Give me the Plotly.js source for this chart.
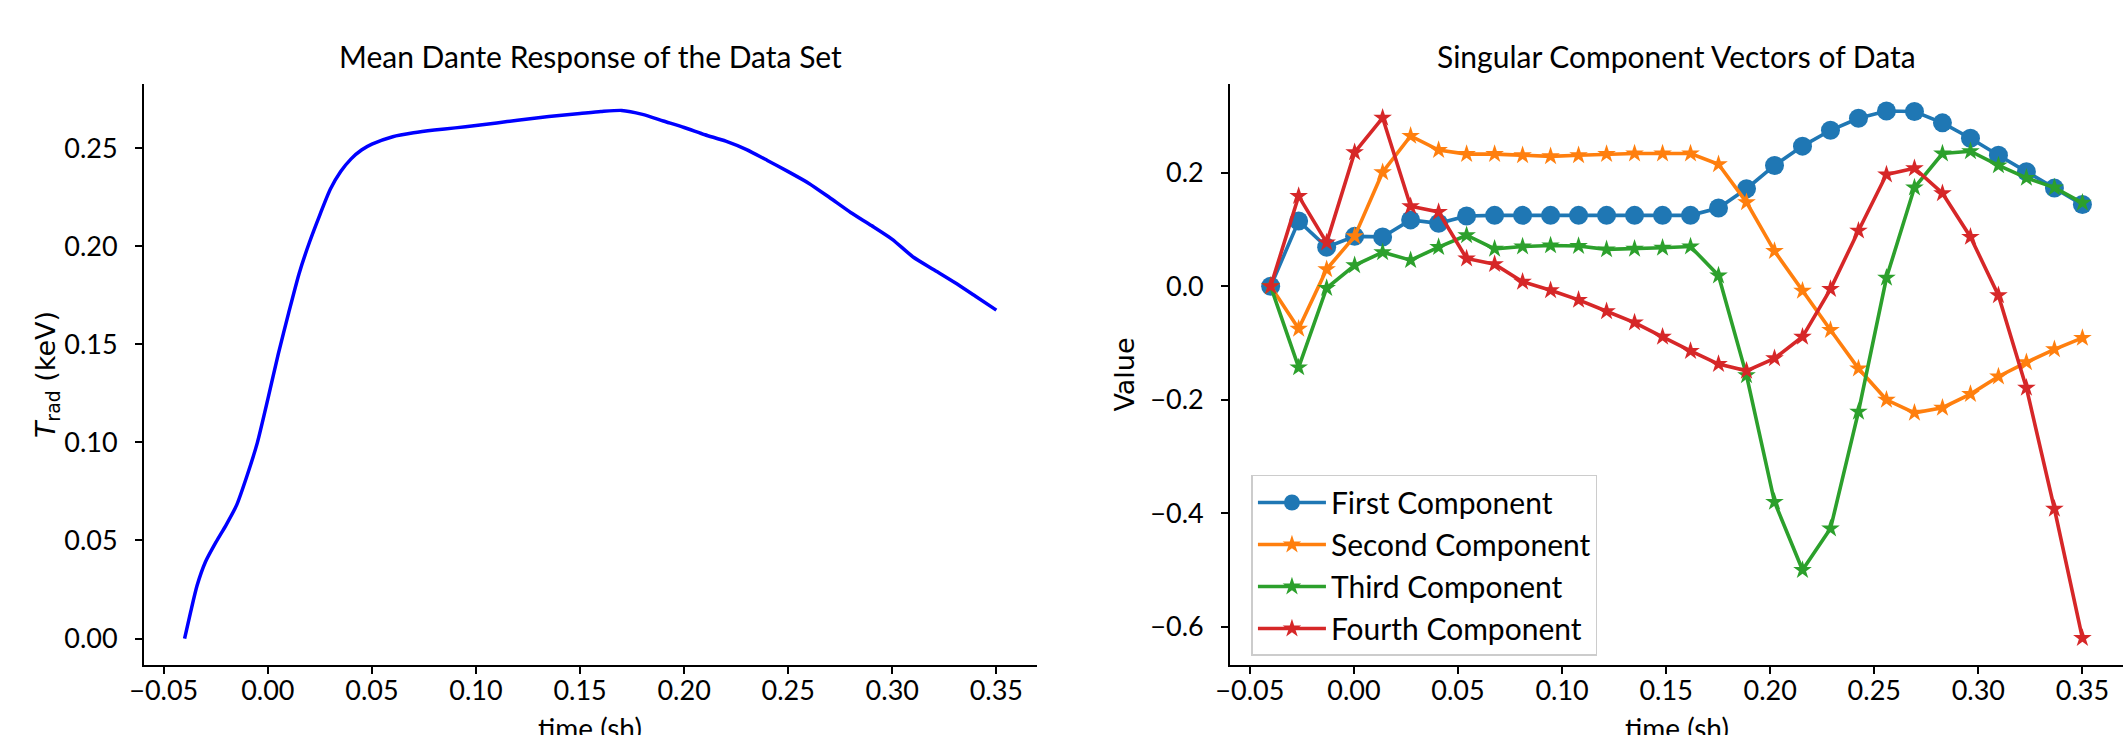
<!DOCTYPE html>
<html><head><meta charset="utf-8">
<script src="https://cdn.plot.ly/plotly-3.0.1.min.js"></script>
<style>html,body{margin:0;padding:0;background:#fff}#chart{width:2125px;height:735px}</style>
</head><body><div id="chart"></div>
<script>
// Left panel: mean Dante response
const meanTime = [-0.040, -0.037, -0.034, -0.030, -0.025, -0.020, -0.015, -0.010, -0.005, 0.000,
  0.005, 0.010, 0.015, 0.020, 0.025, 0.030, 0.035, 0.040, 0.045, 0.050,
  0.060, 0.070, 0.080, 0.090, 0.100, 0.110, 0.120, 0.130, 0.140, 0.150,
  0.160, 0.170, 0.180, 0.190, 0.200, 0.210, 0.220, 0.230, 0.240, 0.250,
  0.260, 0.270, 0.280, 0.290, 0.300, 0.310, 0.320, 0.330, 0.340, 0.350];
const meanTrad = [0.000, 0.014, 0.027, 0.039, 0.049, 0.058, 0.068, 0.083, 0.100, 0.122,
  0.145, 0.166, 0.186, 0.202, 0.216, 0.229, 0.238, 0.2445, 0.249, 0.252,
  0.2558, 0.2578, 0.2592, 0.2603, 0.2615, 0.2628, 0.2642, 0.2655, 0.2666, 0.2676,
  0.2686, 0.2692, 0.2672, 0.2638, 0.2605, 0.2568, 0.2535, 0.2492, 0.2437, 0.2380,
  0.2320, 0.2247, 0.2172, 0.2105, 0.2035, 0.1945, 0.1880, 0.1815, 0.1745, 0.1674];

// Right panel: singular component vectors
const componentTime = [-0.04000, -0.02655, -0.01310, 0.00034, 0.01379, 0.02724, 0.04069, 0.05414, 0.06759, 0.08103,
  0.09448, 0.10793, 0.12138, 0.13483, 0.14828, 0.16172, 0.17517, 0.18862, 0.20207, 0.21552,
  0.22897, 0.24241, 0.25586, 0.26931, 0.28276, 0.29621, 0.30966, 0.32310, 0.33655, 0.35000];
const firstComponent = [0.000, 0.115, 0.069, 0.088, 0.087, 0.117, 0.111, 0.124, 0.125, 0.125,
  0.125, 0.125, 0.125, 0.125, 0.125, 0.125, 0.138, 0.172, 0.213, 0.247,
  0.275, 0.296, 0.309, 0.308, 0.288, 0.261, 0.231, 0.202, 0.173, 0.144];
const secondComponent = [0.000, -0.075, 0.030, 0.088, 0.201, 0.265, 0.240, 0.233, 0.233, 0.231,
  0.229, 0.231, 0.233, 0.234, 0.234, 0.234, 0.215, 0.148, 0.062, -0.008,
  -0.077, -0.145, -0.200, -0.223, -0.214, -0.190, -0.159, -0.134, -0.111, -0.091];
const thirdComponent = [0.000, -0.143, -0.003, 0.037, 0.060, 0.046, 0.069, 0.090, 0.066, 0.070,
  0.072, 0.071, 0.065, 0.066, 0.068, 0.070, 0.019, -0.157, -0.380, -0.500,
  -0.427, -0.221, 0.015, 0.174, 0.234, 0.238, 0.213, 0.191, 0.174, 0.147];
const fourthComponent = [0.000, 0.159, 0.077, 0.236, 0.297, 0.141, 0.131, 0.049, 0.039, 0.008,
  -0.007, -0.024, -0.044, -0.064, -0.089, -0.114, -0.137, -0.149, -0.127, -0.089,
  -0.005, 0.098, 0.197, 0.208, 0.164, 0.087, -0.016, -0.179, -0.392, -0.620];

const seriesNames = ['First Component', 'Second Component', 'Third Component', 'Fourth Component'];
const seriesColors = ['#1f77b4', '#ff7f0e', '#2ca02c', '#d62728'];
const seriesValues = [firstComponent, secondComponent, thirdComponent, fourthComponent];
const seriesSymbols = ['circle', 'star', 'star', 'star'];

const TXT = 'Lato';
const DJ = 'DejaVu Sans';

const traces = [{
  x: meanTime, y: meanTrad, type: 'scatter', mode: 'lines',
  line: {color: '#0000ff', width: 3.5, shape: 'spline', smoothing: 0.6},
  xaxis: 'x', yaxis: 'y', showlegend: false, hoverinfo: 'x+y'
}];
seriesValues.forEach((vals, i) => {
  traces.push({
    x: componentTime, y: vals, type: 'scatter', mode: 'lines+markers',
    name: seriesNames[i],
    line: {color: seriesColors[i], width: 3.6},
    marker: {color: seriesColors[i], symbol: seriesSymbols[i], size: i === 0 ? 19 : 14},
    xaxis: 'x2', yaxis: 'y2'
  });
});

const tickFont = {family: TXT, size: 27, color: '#000'};
const baseX = {
  range: [-0.0595, 0.3695], tick0: -0.05, dtick: 0.05, tickformat: '.2f',
  showline: true, linecolor: '#000', linewidth: 2, mirror: false,
  ticks: 'outside', ticklen: 7, tickwidth: 1.6, tickcolor: '#000',
  showgrid: false, zeroline: false, tickfont: tickFont, ticklabelstandoff: -6
};
const baseY = {
  showline: true, linecolor: '#000', linewidth: 2, mirror: false,
  ticks: 'outside', ticklen: 7, tickwidth: 1.6, tickcolor: '#000',
  showgrid: false, zeroline: false, tickfont: tickFont, ticklabelstandoff: 12
};

const layout = {
  width: 2125, height: 735,
  paper_bgcolor: '#fff', plot_bgcolor: '#fff',
  margin: {l: 144, r: 2, t: 84, b: 70},
  showlegend: true,
  xaxis: Object.assign({}, baseX, {domain: [0, 0.4512], anchor: 'y'}),
  xaxis2: Object.assign({}, baseX, {domain: [0.5488, 1], anchor: 'y2'}),
  yaxis: Object.assign({}, baseY, {
    domain: [0, 1], anchor: 'x', range: [-0.01346, 0.28266], tick0: 0, dtick: 0.05, tickformat: '.2f',
    title: {text: '<i>T</i><sub>rad</sub> (keV)', font: {family: DJ, size: 27, color: '#000'}, standoff: 1}
  }),
  yaxis2: Object.assign({}, baseY, {
    domain: [0, 1], anchor: 'x2', range: [-0.6674, 0.3565], tick0: 0, dtick: 0.2, tickformat: '.1f',
    title: {text: 'Value', font: {family: DJ, size: 27, color: '#000'}, standoff: 8}
  }),
  legend: {
    x: 0.5596, y: 0.0155, xanchor: 'left', yanchor: 'bottom',
    bgcolor: 'rgba(255,255,255,0.8)', bordercolor: '#cccccc', borderwidth: 1.5,
    font: {family: TXT, size: 30, color: '#000'}, itemwidth: 68
  },
  annotations: [
    {text: 'Mean Dante Response of the Data Set', xref: 'x domain', yref: 'paper',
     x: 0.5, y: 1, xanchor: 'center', yanchor: 'bottom', yshift: 8, showarrow: false,
     font: {family: TXT, size: 30, color: '#000'}},
    {text: 'Singular Component Vectors of Data', xref: 'x2 domain', yref: 'paper',
     x: 0.5, y: 1, xanchor: 'center', yanchor: 'bottom', yshift: 8, showarrow: false,
     font: {family: TXT, size: 30, color: '#000'}},
    {text: 'time (sh)', xref: 'x domain', yref: 'paper',
     x: 0.5, y: -0.109, xanchor: 'center', yanchor: 'middle', showarrow: false,
     font: {family: TXT, size: 28, color: '#000'}},
    {text: 'time (sh)', xref: 'x2 domain', yref: 'paper',
     x: 0.5, y: -0.109, xanchor: 'center', yanchor: 'middle', showarrow: false,
     font: {family: TXT, size: 28, color: '#000'}}
  ]
};

Plotly.newPlot('chart', traces, layout, {displayModeBar: false, responsive: false});
</script>
</body></html>
